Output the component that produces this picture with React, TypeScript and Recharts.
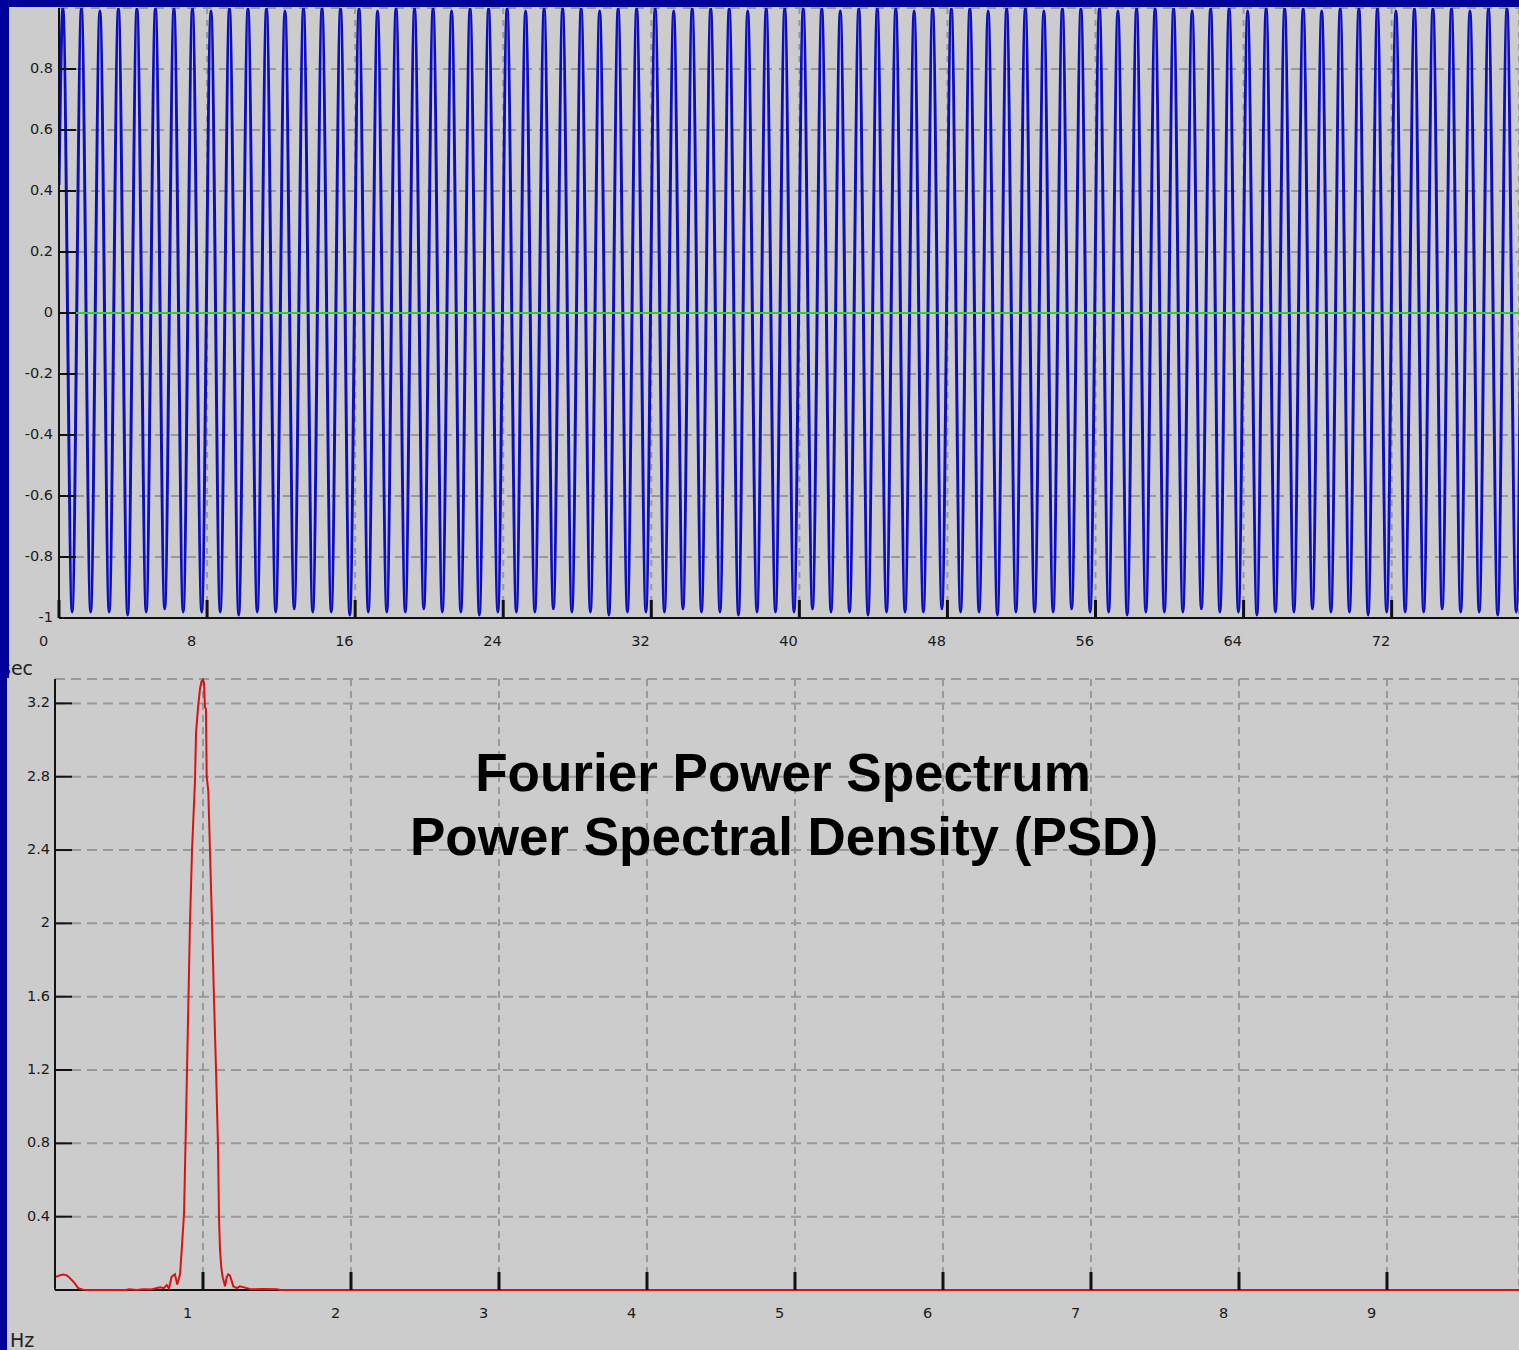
import { LineChart, Line, XAxis, YAxis, CartesianGrid } from 'recharts';

const sigTime = [
  0,
  0.21, 0.71, 1.21, 1.71, 2.21, 2.71, 3.21, 3.71, 4.21, 4.71,
  5.21, 5.71, 6.21, 6.71, 7.21, 7.71, 8.21, 8.71, 9.21, 9.71,
  10.21, 10.71, 11.21, 11.71, 12.21, 12.71, 13.21, 13.71, 14.21, 14.71,
  15.21, 15.71, 16.21, 16.71, 17.21, 17.71, 18.21, 18.71, 19.21, 19.71,
  20.21, 20.71, 21.21, 21.71, 22.21, 22.71, 23.21, 23.71, 24.21, 24.71,
  25.21, 25.71, 26.21, 26.71, 27.21, 27.71, 28.21, 28.71, 29.21, 29.71,
  30.21, 30.71, 31.21, 31.71, 32.21, 32.71, 33.21, 33.71, 34.21, 34.71,
  35.21, 35.71, 36.21, 36.71, 37.21, 37.71, 38.21, 38.71, 39.21, 39.71,
  40.21, 40.71, 41.21, 41.71, 42.21, 42.71, 43.21, 43.71, 44.21, 44.71,
  45.21, 45.71, 46.2, 46.7, 47.2, 47.7, 48.21, 48.71, 49.21, 49.71,
  50.2, 50.7, 51.2, 51.7, 52.21, 52.71, 53.21, 53.71, 54.21, 54.71,
  55.21, 55.71, 56.21, 56.71, 57.21, 57.71, 58.22, 58.72, 59.22, 59.72,
  60.22, 60.72, 61.22, 61.72, 62.22, 62.72, 63.22, 63.72, 64.22, 64.72,
  65.22, 65.72, 66.22, 66.72, 67.22, 67.72, 68.22, 68.72, 69.22, 69.72,
  70.23, 70.73, 71.23, 71.73, 72.23, 72.73, 73.23, 73.73, 74.23, 74.73,
  75.23, 75.73, 76.23, 76.73, 77.23, 77.73, 78.23, 78.73,
  79,
];
const sigValue = [
  0.42,
  1, -0.98, 1, -0.98, 0.99, -0.98, 1, -0.99, 1, -0.98,
  1, -0.97, 1, -0.98, 1, -0.98, 0.99, -0.98, 1, -0.99,
  1, -0.98, 1, -0.98, 0.99, -0.97, 1, -0.98, 1, -0.98,
  1, -0.99, 1, -0.98, 0.99, -0.98, 1, -0.98, 1, -0.97,
  1, -0.98, 0.99, -0.98, 1, -0.99, 1, -0.98, 1, -0.98,
  0.99, -0.98, 1, -0.97, 1, -0.98, 1, -0.98, 0.99, -0.99,
  1, -0.98, 1, -0.98, 1, -0.98, 0.99, -0.97, 1, -0.98,
  1, -0.98, 1, -0.99, 0.99, -0.98, 1, -0.98, 1, -0.98,
  1, -0.97, 1, -0.98, 0.99, -0.98, 1, -0.99, 1, -0.98,
  1, -0.98, 0.99, -0.98, 1, -0.97, 1, -0.98, 1, -0.98,
  0.99, -0.99, 1, -0.98, 1, -0.98, 0.99, -0.98, 1, -0.97,
  1, -0.98, 1, -0.98, 0.99, -0.99, 1, -0.98, 1, -0.98,
  1, -0.98, 0.99, -0.97, 1, -0.98, 1, -0.98, 0.99, -0.99,
  1, -0.98, 1, -0.98, 1, -0.97, 0.99, -0.98, 1, -0.98,
  1, -0.99, 1, -0.98, 0.99, -0.98, 1, -0.98, 1, -0.97,
  1, -0.98, 0.99, -0.98, 1, -0.99, 1, -0.98,
  0.12,
];
const zeroTime = [0, 79];
const zeroValue = [0, 0];
const timeTicks = [0, 8, 16, 24, 32, 40, 48, 56, 64, 72];
const ampTicks = [-1, -0.8, -0.6, -0.4, -0.2, 0, 0.2, 0.4, 0.6, 0.8];

// power spectral density
const psdFreq = [
  0, 0.03, 0.056, 0.08, 0.1, 0.13, 0.157, 0.19, 0.22, 0.48, 0.5, 0.55, 0.6, 0.65,
  0.71, 0.735, 0.755, 0.77, 0.788, 0.81, 0.826, 0.845, 0.856, 0.872, 0.882, 0.892,
  0.902, 0.912, 0.926, 0.946, 0.953, 0.968, 0.98, 0.99, 1.0, 1.007, 1.013, 1.02,
  1.025, 1.036, 1.047, 1.061, 1.074, 1.088, 1.101, 1.108, 1.115, 1.124, 1.133,
  1.149, 1.16, 1.17, 1.182, 1.205, 1.228, 1.25, 1.284, 1.32, 1.4, 1.5, 1.52, 9.89,
];
const psdPower = [
  0.07, 0.08, 0.085, 0.08, 0.065, 0.04, 0.01, 0.002, 0, 0, 0.004, 0, 0.004, 0.003,
  0.015, 0.01, 0.027, 0.008, 0.072, 0.086, 0.03, 0.086, 0.216, 0.42, 0.8, 1.2,
  1.6, 2.0, 2.4, 2.78, 3.04, 3.19, 3.28, 3.32, 3.33, 3.31, 3.18, 3.17,
  2.8, 2.72, 2.4, 2.0, 1.6, 1.2, 0.8, 0.4, 0.22, 0.12, 0.07,
  0.02, 0.07, 0.085, 0.08, 0.02, 0.01, 0.02, 0.013, 0.004, 0.005, 0.004, 0, 0,
];
const baseFreq = [0, 9.89];
const basePower = [0, 0];
const freqTicks = [1, 2, 3, 4, 5, 6, 7, 8, 9];
const powerTicks = [0.4, 0.8, 1.2, 1.6, 2, 2.4, 2.8, 3.2];

const signalData = sigTime.map((t, i) => ({ t, v: sigValue[i] }));
const zeroData = zeroTime.map((t, i) => ({ t, v: zeroValue[i] }));
const psdData = psdFreq.map((f, i) => ({ f, p: psdPower[i] }));
const baseData = baseFreq.map((f, i) => ({ f, p: basePower[i] }));

const BG = '#cccccc';
const SLIDE_BLUE = '#00009a';
const GRID = '#999999';
const LABEL_FONT = 'DejaVu Sans, Verdana, sans-serif';

function BottomTick({ x, y, payload }: any) {
  return (
    <g>
      <line x1={x} y1={y} x2={x} y2={y - 18} stroke="#111" strokeWidth={3} />
      <text x={x - 20} y={y + 23} dominantBaseline="central" fontSize={14.5} fontFamily={LABEL_FONT} fill="#1a1a1a">
        {payload.value}
      </text>
    </g>
  );
}

function LeftTick({ x, y, payload, gap }: any) {
  return (
    <g>
      <line x1={x} y1={y} x2={x + 17} y2={y} stroke="#111" strokeWidth={2} />
      <text x={x - gap} y={y - 1} textAnchor="end" dominantBaseline="central" fontSize={14.5} fontFamily={LABEL_FONT} fill="#1a1a1a">
        {String(payload.value)}
      </text>
    </g>
  );
}

export default function App() {
  return (
    <div style={{ position: 'absolute', left: 0, top: 0, width: 1519, height: 1350, background: BG, overflow: 'hidden' }}>
      <div style={{ position: 'absolute', left: 0, top: 0 }}>
        <LineChart width={1519} height={660} data={signalData} margin={{ top: 8, right: 0, left: 0, bottom: 0 }}>
          <CartesianGrid horizontal vertical={false} stroke={GRID} strokeWidth={2} strokeDasharray="9 7" />
          <CartesianGrid horizontal={false} vertical stroke={GRID} strokeWidth={2} strokeDasharray="6 6" />
          <XAxis
            dataKey="t"
            type="number"
            domain={[0, 78.88]}
            allowDataOverflow
            ticks={timeTicks}
            height={42}
            tickSize={0}
            tickMargin={0}
            tickLine={false}
            axisLine={{ stroke: '#111', strokeWidth: 2 }}
            tick={<BottomTick />}
          />
          <YAxis
            type="number"
            domain={[-1, 1]}
            allowDataOverflow
            ticks={ampTicks}
            width={59}
            tickSize={0}
            tickMargin={0}
            tickLine={false}
            axisLine={{ stroke: '#111', strokeWidth: 2 }}
            tick={<LeftTick gap={6} />}
          />
          <Line type="monotone" dataKey="v" stroke="#0c0cc4" strokeWidth={3} dot={false} isAnimationActive={false} />
          <Line data={zeroData} type="linear" dataKey="v" stroke="#33cc33" strokeWidth={2} dot={false} isAnimationActive={false} />
        </LineChart>
      </div>

      <div style={{ position: 'absolute', left: 0, top: 660 }}>
        <LineChart width={1519} height={690} data={psdData} margin={{ top: 19, right: 0, left: 0, bottom: 0 }}>
          <CartesianGrid horizontal vertical={false} stroke={GRID} strokeWidth={2} strokeDasharray="10 6" />
          <CartesianGrid horizontal={false} vertical stroke={GRID} strokeWidth={2} strokeDasharray="7 5" />
          <XAxis
            dataKey="f"
            type="number"
            domain={[0, 9.892]}
            ticks={freqTicks}
            height={60}
            tickSize={0}
            tickMargin={0}
            tickLine={false}
            axisLine={false}
            tick={<BottomTick />}
          />
          <YAxis
            type="number"
            domain={[0, 3.333]}
            ticks={powerTicks}
            width={55}
            tickSize={0}
            tickMargin={0}
            tickLine={false}
            axisLine={{ stroke: '#111', strokeWidth: 2 }}
            tick={<LeftTick gap={5} />}
          />
          <Line data={baseData} type="linear" dataKey="p" stroke="#111" strokeWidth={2} dot={false} isAnimationActive={false} />
          <Line type="linear" dataKey="p" stroke="#dd1111" strokeWidth={2} dot={false} isAnimationActive={false} />
        </LineChart>
      </div>

      <svg width={1519} height={1350} style={{ position: 'absolute', left: 0, top: 0, pointerEvents: 'none' }}>
        <text x={783} y={791} textAnchor="middle" fontSize={53} fontWeight="bold" fontFamily="Liberation Sans, Arial, sans-serif" fill="#000">
          Fourier Power Spectrum
        </text>
        <text x={784} y={855} textAnchor="middle" fontSize={53} fontWeight="bold" fontFamily="Liberation Sans, Arial, sans-serif" fill="#000">
          Power Spectral Density (PSD)
        </text>
        <text x={1} y={675} fontSize={19} fontFamily={LABEL_FONT} fill="#222">sec</text>
        <text x={10} y={1347} fontSize={19} fontFamily={LABEL_FONT} fill="#222">Hz</text>
      </svg>

      <div style={{ position: 'absolute', left: 0, top: 0, width: 1519, height: 7, background: SLIDE_BLUE }} />
      <div style={{ position: 'absolute', left: 0, top: 0, width: 9, height: 678, background: SLIDE_BLUE }} />
      <div style={{ position: 'absolute', left: 0, top: 678, width: 7, height: 672, background: SLIDE_BLUE }} />
    </div>
  );
}
